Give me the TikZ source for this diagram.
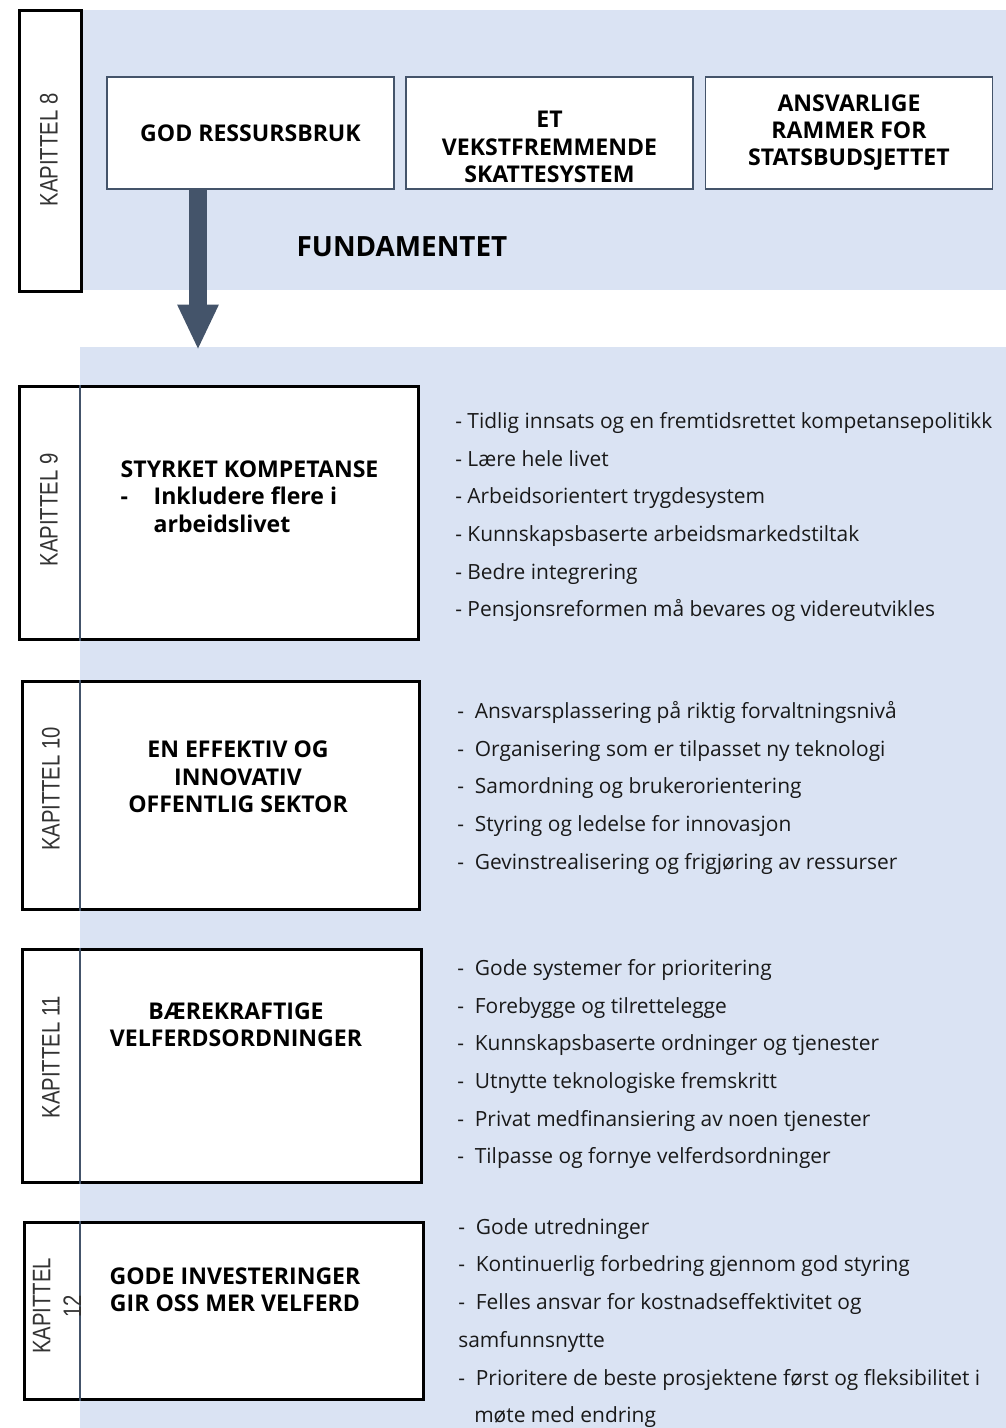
\documentclass[tikz,border=0pt]{standalone}
\usepackage{fontspec}
\setmainfont{Open Sans}
\newfontfamily\kapfont[FakeStretch=0.8]{Liberation Sans}
\usetikzlibrary{arrows.meta}

\definecolor{bandblue}{HTML}{DAE3F3}
\definecolor{slate}{HTML}{44546A}

\tikzset{
  topbox/.style={draw=slate, line width=0.9pt, fill=white, minimum width=215.25pt,
    minimum height=84pt, align=center, font=\bfseries\fontsize{17.3}{20.25}\selectfont},
  headtxt/.style={align=center, font=\bfseries\fontsize{17.3}{20.5}\selectfont},
  kapframe/.style={draw=black, line width=2.2pt, fill=white, anchor=north west},
  skille/.style={draw=slate, line width=0.8pt},
  kaplabel/.style={rotate=90, align=center, text=black!80,
    font=\kapfont\fontsize{19}{19}\selectfont},
  listtxt/.style={anchor=north west, inner sep=0pt, align=left, text=black!90,
    font=\fontsize{15.7}{28.3}\selectfont},
  pilstil/.style={draw=slate, line width=13.5pt, -{Triangle[width=28.5pt,length=34pt]}}
}

\begin{document}
\begin{tikzpicture}[x=0.75pt,y=-0.75pt]
\useasboundingbox (0,0) rectangle (1006,1428);
% bakgrunnsfelt
\fill[bandblue] (80,10) rectangle (1006,290);
\fill[bandblue] (80,347) rectangle (1006,1428);
\coordinate (divx) at (80,0);

% kapittel 8: fundamentet
\node[kapframe, minimum width=46.5pt, minimum height=210.75pt] (k8) at (18,9) {};
\node[kaplabel] (k8lab) at (49,150) {KAPITTEL 8};
\node[topbox] (ressurs) at (250.5,133) {GOD RESSURSBRUK};
\node[topbox] (skatt) at (549.5,133) {};
\node[headtxt] (skatttxt) at (549.5,147) {ET\\VEKSTFREMMENDE\\SKATTESYSTEM};
\node[topbox] (ramme) at (849,133) {ANSVARLIGE\\RAMMER FOR\\STATSBUDSJETTET};
\node[font=\bfseries\fontsize{20.9}{24}\selectfont] (fund) at (402,247) {FUNDAMENTET};

\coordinate (pil) at (198,350);
\draw[pilstil] (ressurs.south -| pil) -- (pil);

% kapittel 9 - 12
\node[kapframe, minimum width=299.25pt, minimum height=189.75pt] (k9) at (18,385) {};
\node[kapframe, minimum width=297.75pt, minimum height=171pt] (k10) at (21,680) {};
\node[kapframe, minimum width=299.25pt, minimum height=174.75pt] (k11) at (21,948) {};
\node[kapframe, minimum width=299.25pt, minimum height=132.75pt] (k12) at (23,1221) {};
\foreach \k in {k9,k10,k11,k12}
  \draw[skille] (\k.north -| divx) -- (\k.south -| divx);

\node[kaplabel] (k9lab) at (49,510) {KAPITTEL 9};
\node[kaplabel] (k10lab) at (51,789) {KAPITTEL 10};
\node[kaplabel] (k11lab) at (51,1057) {KAPITTEL 11};
\node[kaplabel, font=\kapfont\fontsize{19}{23}\selectfont] (k12lab) at (57,1306) {KAPITTEL\\12};

\node[headtxt, anchor=north west, align=left] (k9txt) at (116,456)
  {STYRKET KOMPETANSE\\\makebox[24.75pt][l]{-}Inkludere flere i\\\hspace*{24.75pt}arbeidslivet};
\node[headtxt] (k10txt) at (238,777) {EN EFFEKTIV OG\\INNOVATIV\\OFFENTLIG SEKTOR};
\node[headtxt] (k11txt) at (236,1025) {BÆREKRAFTIGE\\VELFERDSORDNINGER};
\node[headtxt] (k12txt) at (235,1290) {GODE INVESTERINGER\\GIR OSS MER VELFERD};

% tiltak
\node[listtxt] (k9list) at (455,412) {- Tidlig innsats og en fremtidsrettet kompetansepolitikk\\
  - Lære hele livet\\- Arbeidsorientert trygdesystem\\- Kunnskapsbaserte arbeidsmarkedstiltak\\
  - Bedre integrering\\- Pensjonsreformen må bevares og videreutvikles};
\node[listtxt] (k10list) at (457,701) {-~ Ansvarsplassering på riktig forvaltningsnivå\\
  -~ Organisering som er tilpasset ny teknologi\\-~ Samordning og brukerorientering\\
  -~ Styring og ledelse for innovasjon\\-~ Gevinstrealisering og frigjøring av ressurser};
\node[listtxt] (k11list) at (457,959) {-~ Gode systemer for prioritering\\-~ Forebygge og tilrettelegge\\
  -~ Kunnskapsbaserte ordninger og tjenester\\-~ Utnytte teknologiske fremskritt\\
  -~ Privat medfinansiering av noen tjenester\\-~ Tilpasse og fornye velferdsordninger};
\node[listtxt] (k12list) at (458,1218) {-~ Gode utredninger\\-~ Kontinuerlig forbedring gjennom god styring\\
  -~ Felles ansvar for kostnadseffektivitet og\\samfunnsnytte\\
  -~ Prioritere de beste prosjektene først og fleksibilitet i\\\hspace*{12pt}møte med endring};
\end{tikzpicture}
\end{document}
